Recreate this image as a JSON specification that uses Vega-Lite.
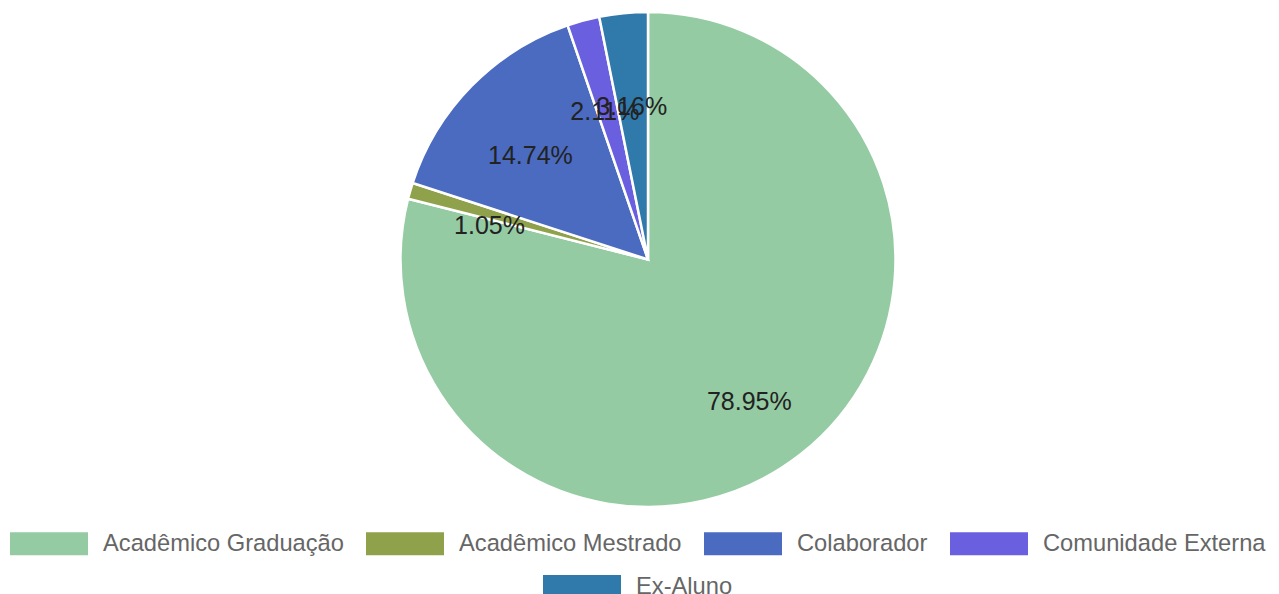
{
  "$schema": "https://vega.github.io/schema/vega-lite/v6.json",
  "width": 1262,
  "height": 519,
  "autosize": {"type": "none"},
  "padding": {"left": 17, "top": 0, "right": 0, "bottom": 75},
  "background": "white",
  "config": {"view": {"stroke": null}, "font": "Liberation Sans"},
  "data": {
    "values": [
      {"categoria": "Acadêmico Graduação", "quantidade": 75, "percentual": 0.7895},
      {"categoria": "Acadêmico Mestrado", "quantidade": 1, "percentual": 0.0105},
      {"categoria": "Colaborador", "quantidade": 14, "percentual": 0.1474},
      {"categoria": "Comunidade Externa", "quantidade": 2, "percentual": 0.0211},
      {"categoria": "Ex-Aluno", "quantidade": 3, "percentual": 0.0316}
    ]
  },
  "encoding": {
    "theta": {"field": "quantidade", "type": "quantitative", "stack": true},
    "order": {"field": "categoria", "type": "ordinal", "sort": "ascending"}
  },
  "layer": [
    {
      "mark": {"type": "arc", "outerRadius": 247.5, "stroke": "white", "strokeWidth": 2.5},
      "encoding": {
        "color": {
          "field": "categoria",
          "type": "nominal",
          "sort": null,
          "scale": {
            "domain": ["Acadêmico Graduação", "Acadêmico Mestrado", "Colaborador", "Comunidade Externa", "Ex-Aluno"],
            "range": ["#94CBA3", "#8FA24B", "#4A6BC0", "#6A5FDF", "#2F79AB"]
          },
          "legend": {
            "title": null,
            "orient": "none",
            "legendX": -7,
            "legendY": 504.5,
            "direction": "horizontal",
            "values": ["Acadêmico Graduação", "Acadêmico Mestrado", "Colaborador", "Comunidade Externa"],
            "symbolType": "M-1,-0.295L1,-0.295L1,0.295L-1,0.295Z",
            "symbolSize": 6084,
            "symbolStrokeWidth": 0,
            "symbolOpacity": 1,
            "labelFontSize": 23.7,
            "labelFont": "Liberation Sans",
            "labelColor": "#666666",
            "labelOffset": 15,
            "columnPadding": 22,
            "padding": 0,
            "labelLimit": 400
          }
        }
      }
    },
    {
      "mark": {"type": "arc", "outerRadius": 247.5, "stroke": "white", "strokeWidth": 2.5},
      "encoding": {
        "fill": {
          "field": "categoria",
          "type": "nominal",
          "sort": null,
          "scale": {
            "domain": ["Acadêmico Graduação", "Acadêmico Mestrado", "Colaborador", "Comunidade Externa", "Ex-Aluno"],
            "range": ["#94CBA3", "#8FA24B", "#4A6BC0", "#6A5FDF", "#2F79AB"]
          },
          "legend": {
            "title": null,
            "orient": "none",
            "legendX": 526,
            "legendY": 547.5,
            "direction": "horizontal",
            "values": ["Ex-Aluno"],
            "symbolType": "M-1,-0.295L1,-0.295L1,0.295L-1,0.295Z",
            "symbolSize": 6084,
            "symbolStrokeWidth": 0,
            "symbolOpacity": 1,
            "labelFontSize": 23.7,
            "labelFont": "Liberation Sans",
            "labelColor": "#666666",
            "labelOffset": 15,
            "padding": 0,
            "labelLimit": 400
          }
        }
      }
    },
    {
      "mark": {"type": "text", "radius": 165, "baseline": "top", "align": "center", "fontSize": 25, "font": "Liberation Sans", "fill": "#222222"},
      "encoding": {
        "text": {"field": "percentual", "type": "quantitative", "format": ".2%"}
      }
    }
  ],
  "resolve": {"scale": {"color": "independent", "fill": "independent"}, "legend": {"color": "independent", "fill": "independent"}}
}
